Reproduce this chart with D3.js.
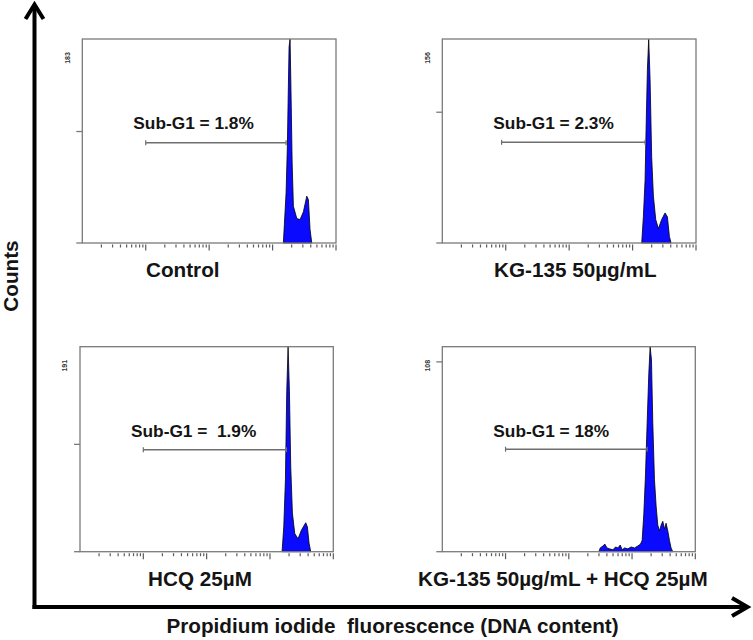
<!DOCTYPE html>
<html>
<head>
<meta charset="utf-8">
<script src="https://cdn.jsdelivr.net/npm/d3@7"></script>
<style>
  body { margin: 0; background: #fff; }
  svg { display: block; font-family: "Liberation Sans", Arial, sans-serif; }
</style>
</head>
<body>
<div id="chart"></div>
<script>
// ---- data ----
var panelNames = ["Control", "KG-135 50µg/mL", "HCQ 25µM", "KG-135 50µg/mL + HCQ 25µM"];
var maxCounts = [183, 156, 191, 108];
var subG1 = ["1.8%", "2.3%", "\u00a01.9%", "18%"];
var yTickValues = [0, 100];

// fluorescence (x) and counts (y) of each histogram outline
var fluorControl = [1480, 1633, 1711, 1755, 1820, 1888, 1959, 2035, 2130, 2409, 2716, 3062, 3459, 3669, 3902, 4150];
var countControl = [0, 45, 87, 125, 176, 183, 131, 72, 33, 22, 21, 28, 42, 39, 12, 0];

var fluorKG = [1393, 1480, 1574, 1633, 1711, 1795, 1888, 2000, 2128, 2317, 2553, 2879, 3251, 3540, 3806, 4045];
var countKG = [0, 20, 48, 87, 132, 156, 125, 66, 36, 18, 11, 18, 23, 20, 5, 0];

var fluorHCQ = [1552, 1651, 1754, 1841, 1932, 2028, 2128, 2261, 2461, 2774, 3133, 3671, 3902, 4140, 4403];
var countHCQ = [0, 23, 67, 150, 191, 150, 79, 36, 17, 12, 20, 27, 23, 8, 0];

var fluorCombo = [299, 314, 346, 372, 401, 442, 498, 549, 597, 650, 699, 761, 858, 968, 1094, 1234, 1361, 1445,
  1535, 1633, 1733, 1841, 1932, 2028, 2128, 2261, 2403, 2553, 2717, 2879, 3062, 3251, 3451, 3671, 3902, 4140, 4403];
var countCombo = [0, 2, 3, 4, 2, 1.5, 1, 2.5, 2, 3.5, 1, 2, 1.5, 2.5, 2, 3, 4, 6,
  20, 41, 68, 94, 108, 101, 68, 38, 24, 14, 11, 14, 16, 12, 15, 11, 6, 2, 0];

// Sub-G1 gate markers
var markerStart = [10, 8.6, 10, 10];
var markerEnd = [1633, 1574, 1820, 1733];
var markerCount = [90, 77, 95, 54];

var fluorAll = [fluorControl, fluorKG, fluorHCQ, fluorCombo];
var countAll = [countControl, countKG, countHCQ, countCombo];

// ---- layout ----
var W = 753, H = 640;
var boxes = [
  {x: 82.3, y: 39, w: 253.7, h: 204},
  {x: 442.3, y: 39, w: 253.7, h: 204},
  {x: 80, y: 346.7, w: 253.3, h: 205},
  {x: 442.3, y: 346.7, w: 253, h: 205}
];
var labelX = [146, 494, 148, 418];
var ink = "#141414";

var svg = d3.select("#chart").append("svg")
  .attr("width", W)
  .attr("height", H);

boxes.forEach(function(b, i) {
  var g = svg.append("g").attr("transform", "translate(" + b.x + "," + b.y + ")");

  var x = d3.scaleLog().domain([1, 10000]).range([0, b.w]);
  var y = d3.scaleLinear().domain([0, maxCounts[i]]).range([b.h, 0]);

  // histogram
  var pts = fluorAll[i].map(function(v, k) { return [v, countAll[i][k]]; });
  var area = d3.area()
    .x(function(d) { return x(d[0]); })
    .y0(y(0))
    .y1(function(d) { return y(d[1]); });
  g.append("path")
    .datum(pts)
    .attr("d", area)
    .attr("fill", "#0a0aff")
    .attr("stroke", "#000")
    .attr("stroke-width", 0.8)
    .attr("stroke-linejoin", "round");

  // frame
  g.append("rect")
    .attr("width", b.w)
    .attr("height", b.h)
    .attr("fill", "none")
    .attr("stroke", "#7a7a7a")
    .attr("stroke-width", 1.3);

  // y ticks
  g.selectAll(".ytick")
    .data(yTickValues)
    .enter().append("line")
    .attr("x1", -6).attr("x2", 0)
    .attr("y1", function(d) { return y(d); })
    .attr("y2", function(d) { return y(d); })
    .attr("stroke", "#7a7a7a")
    .attr("stroke-width", 1.3);

  // x log ticks
  g.selectAll(".xtick")
    .data(x.ticks().filter(function(d) { return d > 1; }))
    .enter().append("line")
    .attr("x1", function(d) { return x(d); })
    .attr("x2", function(d) { return x(d); })
    .attr("y1", b.h + 1.5)
    .attr("y2", function(d) {
      var major = Math.abs(Math.log10(d) - Math.round(Math.log10(d))) < 1e-9;
      return b.h + (major ? 7.5 : 4.5);
    })
    .attr("stroke", "#5a5a5a")
    .attr("stroke-width", 1.2);

  // max count label
  g.append("text")
    .attr("transform", "translate(" + (-15) + "," + 19 + ") rotate(-90)")
    .attr("text-anchor", "middle")
    .attr("dy", "0.35em")
    .style("font-size", "7px")
    .style("font-weight", "bold")
    .attr("fill", "#333")
    .text(maxCounts[i]);

  // Sub-G1 marker
  var my = y(markerCount[i]);
  var x0 = x(markerStart[i]), x1 = x(markerEnd[i]);
  g.append("line")
    .attr("x1", x0).attr("x2", x1)
    .attr("y1", my).attr("y2", my)
    .attr("stroke", "#6e6e6e").attr("stroke-width", 1.5);
  [x0, x1].forEach(function(xx) {
    g.append("line")
      .attr("x1", xx).attr("x2", xx)
      .attr("y1", my - 2.5).attr("y2", my + 2.5)
      .attr("stroke", "#6e6e6e").attr("stroke-width", 1.2);
  });

  g.append("text")
    .attr("x", 51)
    .attr("y", 90)
    .style("font-size", "17.3px")
    .style("font-weight", "bold")
    .attr("fill", ink)
    .text("Sub-G1 = " + subG1[i]);

  // panel label
  svg.append("text")
    .attr("x", labelX[i])
    .attr("y", b.y + b.h + 34)
    .style("font-size", "20.7px")
    .style("font-weight", "bold")
    .attr("fill", ink)
    .text(panelNames[i]);
});

// ---- big axes with arrows ----
svg.append("line")
  .attr("x1", 34.5).attr("x2", 34.5)
  .attr("y1", 5).attr("y2", 609)
  .attr("stroke", "#000").attr("stroke-width", 4);
svg.append("line")
  .attr("x1", 32.5).attr("x2", 747)
  .attr("y1", 607).attr("y2", 607)
  .attr("stroke", "#000").attr("stroke-width", 4);
svg.append("polyline")
  .attr("points", "25.5,19 34.5,4.5 43.5,19")
  .attr("fill", "none").attr("stroke", "#000").attr("stroke-width", 4)
  .attr("stroke-linejoin", "miter");
svg.append("polyline")
  .attr("points", "732,598 747.5,607 732,616")
  .attr("fill", "none").attr("stroke", "#000").attr("stroke-width", 4)
  .attr("stroke-linejoin", "miter");

svg.append("text")
  .attr("transform", "translate(18,276) rotate(-90)")
  .attr("text-anchor", "middle")
  .style("font-size", "20.7px")
  .style("font-weight", "bold")
  .attr("fill", ink)
  .text("Counts");

svg.append("text")
  .attr("x", 166.5)
  .attr("y", 633)
  .style("font-size", "20.7px")
  .style("font-weight", "bold")
  .style("white-space", "pre")
  .attr("fill", ink)
  .text("Propidium iodide  fluorescence (DNA content)");
</script>
</body>
</html>
